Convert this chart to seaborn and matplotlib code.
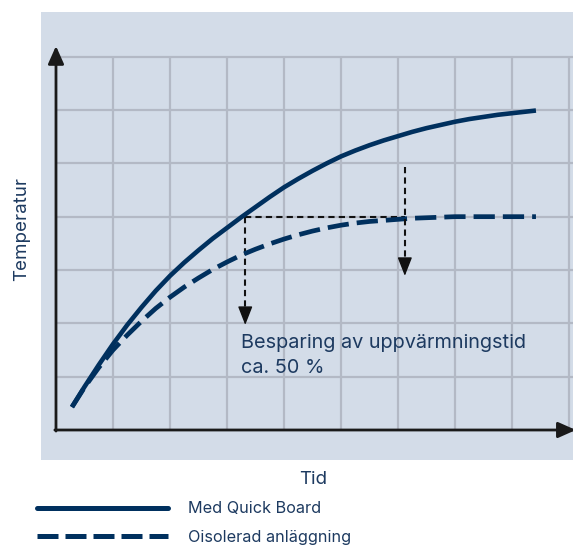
import matplotlib
matplotlib.use("Agg")
import matplotlib.pyplot as plt
from matplotlib.lines import Line2D
import seaborn as sns
import pandas as pd

# ---- data (grid units) ----
tid = [0.28, 0.5, 0.75, 1.0, 1.25, 1.5, 1.75, 2.0, 2.25, 2.5, 2.75, 3.0, 3.25, 3.5, 3.75, 4.0,
       4.25, 4.5, 4.75, 5.0, 5.25, 5.5, 5.75, 6.0, 6.25, 6.5, 6.75, 7.0, 7.25, 7.5, 7.75, 8.0,
       8.25, 8.42]
med_quick_board = [0.43, 0.81, 1.22, 1.61, 1.97, 2.30, 2.61, 2.89, 3.14, 3.37, 3.59, 3.79, 3.99,
                   4.18, 4.37, 4.55, 4.71, 4.86, 5.00, 5.13, 5.24, 5.34, 5.43, 5.51, 5.59, 5.66,
                   5.72, 5.78, 5.83, 5.87, 5.91, 5.94, 5.97, 5.99]
oisolerad = [0.43, 0.80, 1.17, 1.50, 1.78, 2.04, 2.28, 2.49, 2.68, 2.85, 3.01, 3.15, 3.28,
             3.39, 3.49, 3.58, 3.66, 3.73, 3.79, 3.84, 3.88, 3.91, 3.93, 3.95, 3.97, 3.98,
             3.99, 4.0, 4.0, 4.0, 4.0, 4.0, 4.0, 4.0]
x_grid = [1, 2, 3, 4, 5, 6, 7, 8, 9]
y_grid = [1, 2, 3, 4, 5, 6, 7]
labels = ["Med Quick Board", "Oisolerad anläggning"]
annot_text = "Besparing av uppvärmningstid\nca. 50 %"
# annotation geometry (grid units)
t_fast, t_slow, temp_target = 3.32, 6.12, 4.0
arrow_left_tip, arrow_right_top, arrow_right_tip = 1.97, 4.93, 2.89

NAVY = "#00305e"
TEXT = "#1d3a60"
PANEL = "#d3dce8"
GRID = "#b3b9c5"
AXIS = "#1a1a1a"

sns.set_theme(style="white")
plt.rcParams["font.family"] = ["Inter", "DejaVu Sans"]

fig = plt.figure(figsize=(5.73, 5.45), dpi=100)
ax = fig.add_axes([41 / 573, (545 - 460) / 545, 532 / 573, 448 / 545])
ax.set_facecolor(PANEL)
ax.set_xlim(-0.263, 9.07)
ax.set_ylim(-0.5625, 7.8375)
for s in ax.spines.values():
    s.set_visible(False)
ax.set_xticks([])
ax.set_yticks([])

# grid
ax.vlines(x_grid, 0, 7, color=GRID, lw=1.6, zorder=1)
ax.hlines(y_grid, 0, 9.07, color=GRID, lw=1.6, zorder=1)

df = pd.DataFrame({"tid": tid, "a": med_quick_board, "b": oisolerad})
sns.lineplot(data=df, x="tid", y="a", ax=ax, color=NAVY, lw=3.3, zorder=4)
ax.lines[-1].set_solid_joinstyle("round")
ax.lines[-1].set_solid_capstyle("butt")
sns.lineplot(data=df, x="tid", y="b", ax=ax, color=NAVY, lw=3.4, zorder=4)
ax.lines[-1].set_linestyle((0, (4.5, 1.7)))
ax.lines[-1].set_dash_capstyle("butt")
ax.set_xlabel("")
ax.set_ylabel("")

# axes with arrows
ax.annotate("", xy=(0, 7.2), xytext=(0, -0.02), annotation_clip=False,
            arrowprops=dict(arrowstyle="-|>,head_length=0.9,head_width=0.4", lw=2.0,
                            color=AXIS, mutation_scale=12, shrinkA=0, shrinkB=0), zorder=5)
ax.annotate("", xy=(9.12, 0), xytext=(-0.02, 0), annotation_clip=False,
            arrowprops=dict(arrowstyle="-|>,head_length=0.9,head_width=0.4", lw=2.0,
                            color=AXIS, mutation_scale=12, shrinkA=0, shrinkB=0), zorder=5)

# annotation dashed lines
dash = (0, (3, 2))
ax.plot([t_fast, t_slow], [temp_target, temp_target], color="#111111", lw=1.5, ls=dash, zorder=3)
ax.plot([t_fast, t_fast], [temp_target, arrow_left_tip + 0.2], color="#111111", lw=1.5, ls=dash, zorder=3)
ax.plot([t_slow, t_slow], [arrow_right_top, arrow_right_tip + 0.2], color="#111111", lw=1.5, ls=dash, zorder=5)
for xt, yt in [(t_fast, arrow_left_tip), (t_slow, arrow_right_tip)]:
    ax.annotate("", xy=(xt, yt), xytext=(xt, yt + 0.32),
                arrowprops=dict(arrowstyle="-|>,head_length=1.15,head_width=0.45", lw=1.0,
                                color="#111111", mutation_scale=10, shrinkA=0, shrinkB=0), zorder=6)

ax.text(t_fast - 0.07, 1.8, annot_text, ha="left", va="top", fontsize=14.3,
        color=TEXT, linespacing=1.5, zorder=6)

# axis labels
fig.text(22 / 573, 1 - 229 / 545, "Temperatur", rotation=90, ha="center", va="center",
         fontsize=13.5, color=TEXT)
fig.text(313 / 573, 1 - 479 / 545, "Tid", ha="center", va="center", fontsize=13.5, color=TEXT)

# legend
h1 = Line2D([], [], color=NAVY, lw=3.6)
h2 = Line2D([], [], color=NAVY, lw=3.6, ls=(0, (4.2, 1.4)))
h2.set_dash_capstyle("butt")
fig.legend(handles=[h1, h2], labels=labels, loc="upper left",
           bbox_to_anchor=(37 / 573, 1 - 501.5 / 545), frameon=False, fontsize=11.7,
           handlelength=8.06, handletextpad=1.23, labelspacing=0.84, borderpad=0,
           borderaxespad=0, labelcolor=TEXT)

fig.savefig("out.png", dpi=100)
